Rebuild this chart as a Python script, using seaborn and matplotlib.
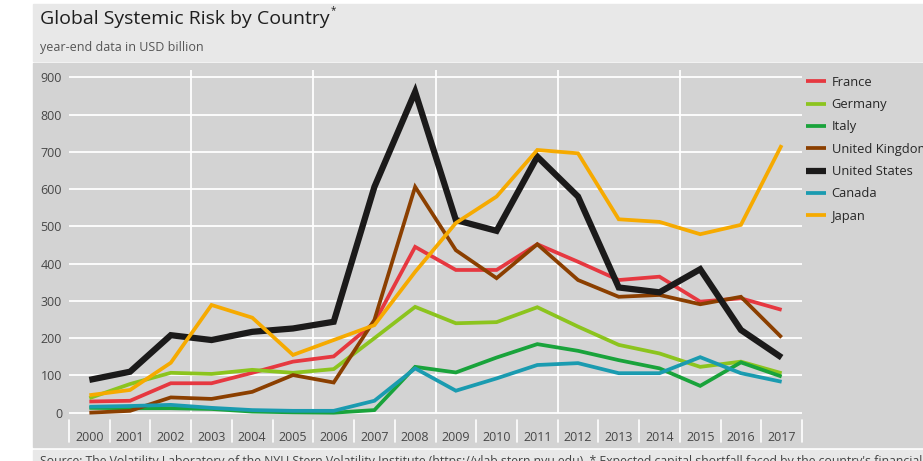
import matplotlib
matplotlib.use("Agg")
import matplotlib.pyplot as plt
import matplotlib.transforms as mtransforms
from matplotlib.patches import Rectangle
import seaborn as sns
import pandas as pd

years = list(range(2000, 2018))
france = [30, 32, 79, 79, 107, 137, 151, 242, 445, 383, 383, 452, 405, 356, 365, 298, 307, 276]
germany = [39, 77, 107, 104, 115, 107, 117, 200, 284, 240, 243, 283, 231, 182, 159, 123, 137, 106]
italy = [13, 12, 12, 10, 3, 1, 0, 7, 123, 108, 148, 184, 166, 141, 119, 72, 135, 97]
uk = [0, 5, 41, 37, 56, 101, 81, 249, 606, 436, 361, 452, 356, 311, 316, 291, 311, 202]
us = [88, 110, 208, 195, 217, 226, 244, 606, 861, 517, 488, 687, 580, 336, 323, 385, 222, 148]
canada = [16, 18, 21, 13, 7, 5, 5, 32, 119, 59, 92, 128, 133, 106, 106, 149, 106, 83]
japan = [47, 61, 134, 289, 255, 155, 195, 235, 378, 509, 580, 705, 696, 519, 512, 479, 504, 718]

countries = ["France", "Germany", "Italy", "United Kingdom", "United States", "Canada", "Japan"]
series = [france, germany, italy, uk, us, canada, japan]
colors = ["#e63840", "#8cc41e", "#19a33b", "#8b3f00", "#1b1a1a", "#1a9bb0", "#f6aa00"]
yticks = list(range(0, 1000, 100))

rows = []
for c, vals in zip(countries, series):
    for y, v in zip(years, vals):
        rows.append({"Year": y, "Value": v, "Country": c})
df = pd.DataFrame(rows)

sns.set_theme(style="white")
plt.rcParams["font.family"] = ["Open Sans", "DejaVu Sans"]

W, H = 923, 461
fig = plt.figure(figsize=(W / 100, H / 100), dpi=100)
fig.patch.set_facecolor("white")

def fy(py):
    return 1 - py / H

# background bands
for (x0, y0, y1, col) in [(33, 4, 61, "#e8e8e8"), (33, 63, 447, "#d3d3d3"), (33, 450, 461, "#e8e8e8")]:
    fig.patches.append(Rectangle((x0 / W, fy(y1)), (W - x0) / W, (y1 - y0) / H,
                                 transform=fig.transFigure, color=col, zorder=-10))

ax_left, ax_right, ax_top, ax_bot = 69, 802, 70, 418
ax = fig.add_axes([ax_left / W, fy(ax_bot), (ax_right - ax_left) / W, (ax_bot - ax_top) / H])
ax.set_facecolor("none")
ax.set_zorder(2)

px_per_unit = (412.7 - 77.3) / 900
ax.set_ylim(-(ax_bot - 412.7) / px_per_unit, 900 + (77.3 - ax_top) / px_per_unit)

sizes = {c: (4.5 if c == "United States" else 2.7) for c in countries}
sns.lineplot(data=df, x="Year", y="Value", hue="Country", size="Country",
             hue_order=countries, size_order=countries,
             palette=dict(zip(countries, colors)), sizes=sizes, ax=ax, zorder=3)
for ln in ax.lines:
    ln.set_solid_capstyle("butt")
    ln.set_solid_joinstyle("miter")
ax.set_xlim(1999.5, 2017.5)

ax.set_yticks(yticks)
ax.set_xticks(years)
ax.set_xticklabels([str(y) for y in years])
ax.grid(axis="y", color="white", linewidth=1.3)
ax.grid(axis="x", visible=False)
ax.set_axisbelow(True)
ax.vlines([2002.5, 2005.5, 2008.5, 2011.5, 2014.5], 0, ax.get_ylim()[1],
          color="white", linewidth=1.3, zorder=1)
for s in ax.spines.values():
    s.set_visible(False)
ax.tick_params(axis="y", length=0, pad=5, labelsize=9, labelcolor="#474747")
ax.tick_params(axis="x", length=0, pad=9, labelsize=9, labelcolor="#474747")
ax.set_xlabel("")
ax.set_ylabel("")

# year separators below axis
trans = mtransforms.blended_transform_factory(ax.transData, fig.transFigure)
for i in range(len(years) + 1):
    xv = years[0] - 0.5 + i
    ax.plot([xv, xv], [fy(420), fy(442)], transform=trans, color="white",
            linewidth=1.2, clip_on=False, zorder=1)

# legend
handles, labels = ax.get_legend_handles_labels()
ax.legend(handles, labels, loc="upper left", bbox_to_anchor=(802 / W, fy(72)),
          bbox_transform=fig.transFigure, frameon=False, fontsize=9.3,
          handlelength=1.55, handletextpad=0.45, labelspacing=0.72,
          borderaxespad=0, borderpad=0.3, labelcolor="#262626")

# titles
t = fig.text(40 / W, fy(19), "Global Systemic Risk by Country", fontsize=14,
             color="#1e1e1e", va="center", ha="left")
fig.canvas.draw()
bb = t.get_window_extent()
fig.text(bb.x1 / W + 1 / W, fy(11), "*", fontsize=7, color="#1e1e1e",
         va="center", ha="left")
fig.text(40 / W, fy(48), "year-end data in USD billion", fontsize=9,
         color="#555555", va="center", ha="left")
fig.text(40 / W, fy(461), "Source: The Volatility Laboratory of the NYU Stern Volatility Institute "
         "(https://vlab.stern.nyu.edu). * Expected capital shortfall faced by the country's financial institutions",
         fontsize=8.8, color="#444444", va="center", ha="left")

fig.savefig("out.png", dpi=100)
